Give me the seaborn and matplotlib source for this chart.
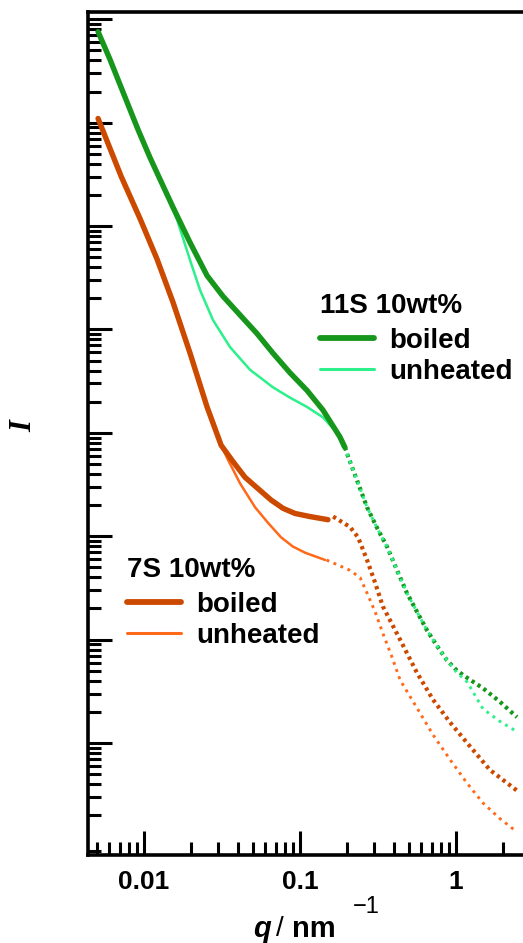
import numpy as np
import pandas as pd
import matplotlib
matplotlib.use('Agg')
import matplotlib.pyplot as plt
import seaborn as sns
from matplotlib.lines import Line2D
from matplotlib.ticker import LogLocator, NullFormatter

# ──────────────────────────────────────────────────────────────────────────────
# Dados (q em nm^-1, log10 I em unidades arbitrárias)
# ──────────────────────────────────────────────────────────────────────────────

# 11S 10wt% boiled
q_11s_boiled = [0.00507, 0.00605, 0.00713, 0.00916, 0.01093, 0.01267, 0.01535,
                0.01972, 0.02535, 0.03209, 0.04121, 0.05297, 0.06708, 0.0863,
                0.1109, 0.1403, 0.1803, 0.194]
logi_11s_boiled = [6.88, 6.61, 6.34, 5.93, 5.66, 5.45, 5.18,
                   4.84, 4.52, 4.32, 4.14, 3.96, 3.77, 3.58,
                   3.41, 3.22, 2.96, 2.86]
q_11s_boiled_dot = [0.194, 0.200, 0.232, 0.269, 0.312, 0.361, 0.419, 0.485, 0.562,
                    0.652, 0.755, 0.875, 1.015, 1.18, 1.49, 1.91, 2.46]
logi_11s_boiled_dot = [2.86, 2.80, 2.54, 2.28, 2.08, 1.90, 1.67, 1.45, 1.27,
                       1.09, 0.94, 0.80, 0.70, 0.63, 0.53, 0.40, 0.25]

# 11S 10wt% unheated
q_11s_unheated = [0.00507, 0.00605, 0.00713, 0.00916, 0.01093, 0.01324, 0.01629,
                  0.01972, 0.02286, 0.02768, 0.03556, 0.04778, 0.06708, 0.0863,
                  0.1109, 0.1403, 0.1726, 0.1888]
logi_11s_unheated = [6.88, 6.61, 6.34, 5.93, 5.66, 5.38, 5.06,
                     4.67, 4.38, 4.09, 3.83, 3.61, 3.44, 3.34,
                     3.25, 3.15, 3.00, 2.86]
q_11s_unheated_dot = [0.200, 0.232, 0.269, 0.312, 0.361, 0.419, 0.485, 0.562,
                      0.652, 0.755, 0.875, 1.015, 1.18, 1.49, 1.91, 2.46]
logi_11s_unheated_dot = [2.80, 2.54, 2.28, 2.08, 1.90, 1.67, 1.45, 1.27,
                         1.09, 0.94, 0.80, 0.68, 0.59, 0.33, 0.21, 0.11]

# 7S 10wt% boiled
q_7s_boiled = [0.00507, 0.00713, 0.00943, 0.01211, 0.01535, 0.01972, 0.02535,
               0.0312, 0.03725, 0.0444, 0.0538, 0.0652, 0.0778, 0.0929, 0.116, 0.151]
logi_7s_boiled = [6.04, 5.48, 5.07, 4.68, 4.26, 3.77, 3.25,
                  2.88, 2.72, 2.57, 2.46, 2.35, 2.27, 2.22, 2.19, 2.16]
q_7s_boiled_dot = [0.163, 0.209, 0.2355, 0.269, 0.303, 0.340, 0.438, 0.562,
                   0.712, 0.916, 1.18, 1.65, 2.46]
logi_7s_boiled_dot = [2.19, 2.09, 1.99, 1.77, 1.55, 1.32, 1.00, 0.68,
                      0.42, 0.20, 0.00, -0.26, -0.46]

# 7S 10wt% unheated
q_7s_unheated = [0.00507, 0.00713, 0.00943, 0.01211, 0.01535, 0.01972, 0.02535,
                 0.0312, 0.0345, 0.0413, 0.0515, 0.0623, 0.0755, 0.090, 0.108, 0.145]
logi_7s_unheated = [6.04, 5.48, 5.07, 4.68, 4.26, 3.77, 3.25,
                    2.88, 2.74, 2.51, 2.28, 2.13, 1.99, 1.90, 1.84, 1.77]
q_7s_unheated_dot = [0.148, 0.209, 0.2427, 0.269, 0.303, 0.340, 0.389, 0.438,
                     0.562, 0.712, 0.916, 1.18, 1.49, 1.91, 2.46]
logi_7s_unheated_dot = [1.77, 1.67, 1.60, 1.45, 1.27, 1.06, 0.83, 0.61,
                        0.34, 0.08, -0.16, -0.39, -0.58, -0.73, -0.86]

x_major = [0.01, 0.1, 1]
x_major_labels = ['0.01', '0.1', '1']
y_decades = list(range(0, 8))

COR_11S_BOILED = '#17961c'
COR_11S_UNHEATED = '#2cf08a'
COR_7S_BOILED = '#cc4a00'
COR_7S_UNHEATED = '#ff6a1a'

FONTE = 'Liberation Sans'

# ──────────────────────────────────────────────────────────────────────────────
# Figura
# ──────────────────────────────────────────────────────────────────────────────

sns.set_style('ticks')
plt.rcParams['font.family'] = [FONTE, 'DejaVu Sans']
plt.rcParams['text.color'] = 'black'
plt.rcParams['xtick.color'] = 'black'
plt.rcParams['ytick.color'] = 'black'

fig = plt.figure(figsize=(5.23, 9.43), dpi=100)
ax = fig.add_axes([88 / 523, 88 / 943, 435 / 523, 843 / 943])


def plotar(q, logi, cor, lw, pontilhado=False):
    df = pd.DataFrame({'q': q, 'I': 10 ** np.array(logi)})
    if pontilhado:
        estilo = (0, (0.8, 0.9)) if lw > 2.5 else (0, (1.0, 1.6))
        kw = dict(linestyle=estilo, dash_capstyle='butt', solid_joinstyle='round')
    else:
        kw = dict(solid_capstyle='round', solid_joinstyle='round')
    sns.lineplot(data=df, x='q', y='I', color=cor, lw=lw,
                 estimator=None, sort=False, ax=ax, **kw)


plotar(q_7s_unheated, logi_7s_unheated, COR_7S_UNHEATED, 1.8)
plotar(q_7s_unheated_dot, logi_7s_unheated_dot, COR_7S_UNHEATED, 2.1, True)
plotar(q_7s_boiled, logi_7s_boiled, COR_7S_BOILED, 3.9)
plotar(q_7s_boiled_dot, logi_7s_boiled_dot, COR_7S_BOILED, 3.0, True)
plotar(q_11s_unheated, logi_11s_unheated, COR_11S_UNHEATED, 1.8)
plotar(q_11s_boiled, logi_11s_boiled, COR_11S_BOILED, 3.9)
plotar(q_11s_boiled_dot, logi_11s_boiled_dot, COR_11S_BOILED, 3.0, True)
plotar(q_11s_unheated_dot, logi_11s_unheated_dot, COR_11S_UNHEATED, 2.1, True)

ax.set_xscale('log')
ax.set_yscale('log')
ax.set_xlim(0.00437, 2.69)
ax.set_ylim(10 ** -1.083, 10 ** 7.07)

ax.set_xticks(x_major)
ax.set_xticklabels(x_major_labels)
ax.xaxis.set_minor_locator(LogLocator(base=10, subs=np.arange(2, 10), numticks=20))
ax.xaxis.set_minor_formatter(NullFormatter())
ax.set_yticks([10.0 ** k for k in y_decades])
ax.yaxis.set_major_formatter(NullFormatter())
ax.yaxis.set_minor_locator(LogLocator(base=10, subs=np.arange(2, 10), numticks=30))
ax.yaxis.set_minor_formatter(NullFormatter())

ax.tick_params(which='both', direction='in', width=2.2, color='black',
               top=False, right=False)
ax.tick_params(which='major', length=17)
ax.tick_params(which='minor', length=9.5)
ax.tick_params(axis='x', which='major', pad=11, labelsize=19, labelcolor='black')
for lab in ax.get_xticklabels():
    lab.set_fontweight('bold')

for lado in ['left', 'bottom', 'top']:
    ax.spines[lado].set_linewidth(2.6)
    ax.spines[lado].set_color('black')
ax.spines['right'].set_visible(False)
ax.set_xlabel('')
ax.set_ylabel('')

# rótulos dos eixos
fig.text(24 / 523, 1 - 426 / 943, 'I', family='Liberation Serif', style='italic',
         fontweight='bold', fontsize=22, rotation=90, ha='center', va='center')
fig.text(262 / 523, 1 - 929 / 943, 'q', fontweight='bold', style='italic',
         fontsize=21, ha='center', va='center')
fig.text(280 / 523, 1 - 929 / 943, '/', fontsize=20, ha='center', va='center')
fig.text(292 / 523, 1 - 929 / 943, 'nm', fontweight='bold',
         fontsize=21, ha='left', va='center')
fig.text(353 / 523, 1 - 907 / 943, '\u22121', fontsize=17, ha='left', va='center')


# legendas
def legenda(titulo, cores, pos):
    hs = [Line2D([], [], color=cores[0], lw=4.2),
          Line2D([], [], color=cores[1], lw=2.2)]
    leg = ax.legend(hs, ['boiled', 'unheated'], title=titulo, loc='upper left',
                    bbox_to_anchor=pos, bbox_transform=fig.transFigure,
                    frameon=False, handlelength=1.95, handletextpad=0.55,
                    labelspacing=0.18, borderpad=0, borderaxespad=0,
                    alignment='left', prop={'weight': 'bold', 'size': 20},
                    title_fontproperties={'weight': 'bold', 'size': 20})
    leg._legend_box.sep = 6.3
    return leg


leg1 = legenda('11S 10wt%', [COR_11S_BOILED, COR_11S_UNHEATED], (320 / 523, 1 - 293 / 943))
ax.add_artist(leg1)
legenda('7S 10wt%', [COR_7S_BOILED, COR_7S_UNHEATED], (127 / 523, 1 - 557 / 943))

fig.savefig('out.png', dpi=100)
